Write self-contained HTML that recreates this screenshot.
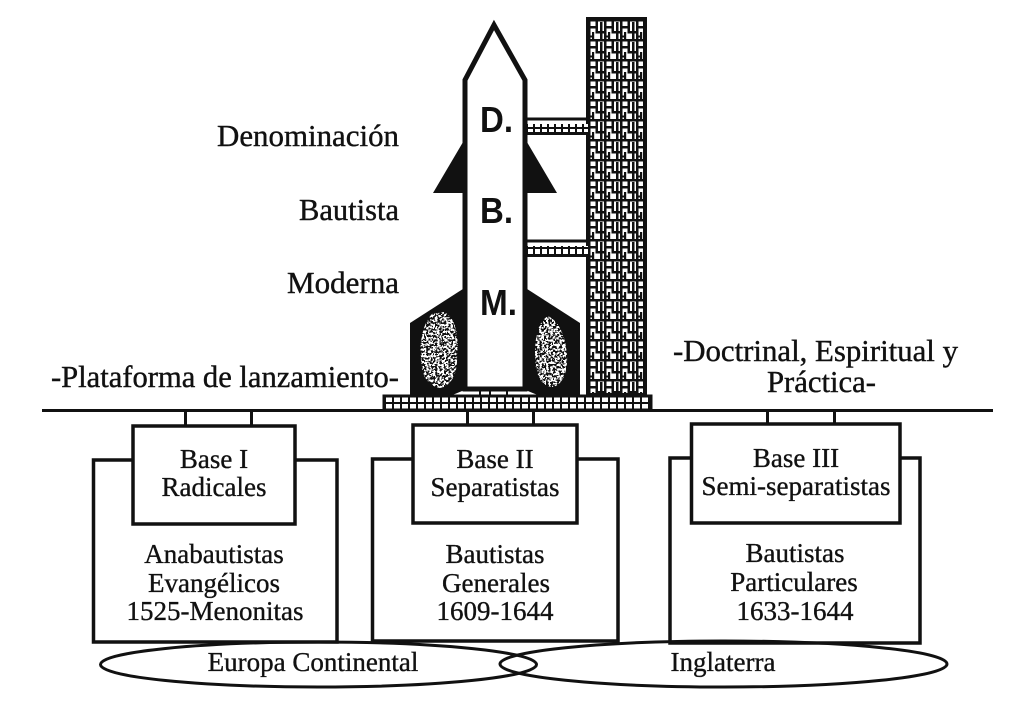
<!DOCTYPE html>
<html><head><meta charset="utf-8"><style>html,body{margin:0;padding:0;background:#fff;}svg{display:block}</style></head>
<body>
<svg width="1024" height="714" viewBox="0 0 1024 714" xmlns="http://www.w3.org/2000/svg">
<defs>
  <pattern id="maze" width="16" height="20" patternUnits="userSpaceOnUse" x="588" y="19">
    <rect width="16" height="20" fill="#fff"/>
    <g fill="#111">
      <rect x="0" y="0" width="16" height="2.5"/>
      <rect x="0" y="0" width="2.5" height="20"/>
      <rect x="7.5" y="0" width="2.5" height="12"/>
      <rect x="0" y="7" width="9" height="2.5"/>
      <rect x="7.5" y="12" width="8.5" height="2.5"/>
      <rect x="12" y="3" width="2.5" height="17"/>
      <rect x="4" y="13" width="2.2" height="7"/>
      <rect x="0" y="16.5" width="6" height="2"/>
    </g>
  </pattern>
  <pattern id="plat" width="8" height="10" patternUnits="userSpaceOnUse" x="384" y="398">
    <rect width="8" height="10" fill="#fff"/>
    <rect x="0" y="0" width="2" height="10" fill="#111"/>
    <rect x="0" y="4" width="8" height="2" fill="#111"/>
  </pattern>
  <pattern id="brg" width="7" height="8" patternUnits="userSpaceOnUse" x="526" y="124">
    <rect width="7" height="8" fill="#fff"/>
    <rect x="0" y="0" width="2" height="8" fill="#111"/>
    <rect x="0" y="3" width="7" height="2" fill="#111"/>
  </pattern>
  <filter id="speck" x="0" y="0" width="1" height="1">
    <feTurbulence type="fractalNoise" baseFrequency="0.45" numOctaves="2" seed="4" result="t"/>
    <feColorMatrix in="t" type="matrix" values="0 0 0 0 1  0 0 0 0 1  0 0 0 0 1  1 0 0 0 0" result="a"/>
    <feComponentTransfer in="a" result="b">
      <feFuncA type="discrete" tableValues="0 0 0 0 0 0 0 0 0 0 1 1 1 1 1 1 1 1 1 1"/>
    </feComponentTransfer>
    <feComposite in="b" in2="SourceGraphic" operator="in"/>
  </filter>
</defs>

<rect width="1024" height="714" fill="#fff"/>

<!-- Tower -->
<rect x="588" y="19" width="57" height="376" fill="url(#maze)"/>
<rect x="588" y="19" width="57" height="376" fill="none" stroke="#111" stroke-width="4"/>

<!-- Bridges -->
<rect x="526" y="117.5" width="62" height="3" fill="#111"/>
<rect x="526" y="124" width="62" height="8" fill="url(#brg)"/>
<rect x="526" y="132" width="62" height="3" fill="#111"/>
<rect x="526" y="239.5" width="62" height="3" fill="#111"/>
<rect x="526" y="246" width="62" height="8" fill="url(#brg)"/>
<rect x="526" y="254" width="62" height="3" fill="#111"/>

<!-- Fins -->
<polygon points="466,137 433,193 466,193" fill="#111"/>
<polygon points="524,137 557,193 524,193" fill="#111"/>
<polygon points="466,287 410,323 410,396 466,396" fill="#111"/>
<polygon points="524,287 580,323 580,396 524,396" fill="#111"/>
<path d="M444 312 C456 318 459 335 457 355 C458 372 452 386 440 388 C428 386 421 375 421 360 C419 340 424 322 432 314 Z" fill="#fff" filter="url(#speck)"/>
<path d="M548 316 C560 322 566 338 567 356 C568 372 562 386 552 387 C540 386 535 372 535 356 C535 336 538 322 548 316 Z" fill="#fff" filter="url(#speck)"/>
<polygon points="450,396 467,389 467,396" fill="#fff"/>
<polygon points="523,389 540,396 523,396" fill="#fff"/>

<!-- Body -->
<path d="M465 389 L465 80 L494 25 L525 80 L525 389 Z" fill="#fff" stroke="#111" stroke-width="5" stroke-linejoin="miter"/>
<rect x="465" y="387" width="60" height="3" fill="#111"/>
<rect x="479" y="389" width="2" height="7" fill="#111"/>
<rect x="489" y="389" width="2" height="7" fill="#111"/>
<rect x="506" y="389" width="2" height="7" fill="#111"/>

<g font-family="'Liberation Sans', Arial, sans-serif" font-weight="bold" font-size="36" fill="#111">
  <text x="480" y="132" textLength="33" lengthAdjust="spacingAndGlyphs">D.</text>
  <text x="480" y="223" textLength="33" lengthAdjust="spacingAndGlyphs">B.</text>
  <text x="480" y="315" textLength="37" lengthAdjust="spacingAndGlyphs">M.</text>
</g>

<!-- Platform -->
<rect x="384" y="396" width="267" height="14" fill="url(#plat)" stroke="#111" stroke-width="3"/>

<!-- Ground line -->
<rect x="42" y="409" width="951" height="3" fill="#111"/>

<!-- Stubs -->
<g fill="#111">
  <rect x="184" y="411" width="3" height="15"/>
  <rect x="250" y="411" width="3" height="15"/>
  <rect x="466" y="411" width="3" height="15"/>
  <rect x="532" y="411" width="3" height="15"/>
  <rect x="766" y="411" width="3" height="15"/>
  <rect x="833" y="411" width="3" height="15"/>
</g>

<!-- Boxes -->
<g fill="none" stroke="#111" stroke-width="3.5">
  <rect x="93.5" y="460" width="243.5" height="182"/>
  <rect x="372.5" y="459" width="245.5" height="182"/>
  <rect x="670" y="458" width="250" height="185"/>
</g>
<g fill="#fff" stroke="#111" stroke-width="3.5">
  <rect x="133" y="426" width="162" height="98"/>
  <rect x="413" y="425" width="164" height="98"/>
  <rect x="691.5" y="424" width="208.5" height="99"/>
</g>

<!-- Ellipses -->
<g fill="none" stroke="#111" stroke-width="3">
  <ellipse cx="318.5" cy="664.5" rx="218" ry="22.5"/>
  <ellipse cx="723.5" cy="664" rx="223.5" ry="23"/>
</g>

<!-- Labels -->
<g font-family="'Liberation Serif', 'Times New Roman', serif" font-size="31" fill="#111" stroke="#111" stroke-width="0.4">
  <text x="399" y="146" text-anchor="end" textLength="182" lengthAdjust="spacingAndGlyphs">Denominación</text>
  <text x="399" y="220" text-anchor="end" textLength="100" lengthAdjust="spacingAndGlyphs">Bautista</text>
  <text x="399" y="293" text-anchor="end" textLength="112" lengthAdjust="spacingAndGlyphs">Moderna</text>
  <text x="51" y="387" textLength="348" lengthAdjust="spacingAndGlyphs">-Plataforma de lanzamiento-</text>
  <text x="673" y="361" textLength="285" lengthAdjust="spacingAndGlyphs">-Doctrinal, Espiritual y</text>
  <text x="767" y="392" textLength="109" lengthAdjust="spacingAndGlyphs">Práctica-</text>
</g>

<g font-family="'Liberation Serif', 'Times New Roman', serif" font-size="27" fill="#111" stroke="#111" stroke-width="0.35" text-anchor="middle">
  <text x="214" y="468">Base I</text>
  <text x="214" y="496">Radicales</text>
  <text x="214" y="563">Anabautistas</text>
  <text x="214" y="592">Evangélicos</text>
  <text x="215" y="620">1525-Menonitas</text>

  <text x="495" y="468">Base II</text>
  <text x="495" y="496">Separatistas</text>
  <text x="495" y="563">Bautistas</text>
  <text x="496" y="592">Generales</text>
  <text x="495" y="620">1609-1644</text>

  <text x="796" y="467">Base III</text>
  <text x="796" y="495">Semi-separatistas</text>
  <text x="795" y="562">Bautistas</text>
  <text x="794" y="591">Particulares</text>
  <text x="795" y="620">1633-1644</text>

  <text x="313" y="671">Europa Continental</text>
  <text x="723" y="671">Inglaterra</text>
</g>
</svg>
</body></html>
